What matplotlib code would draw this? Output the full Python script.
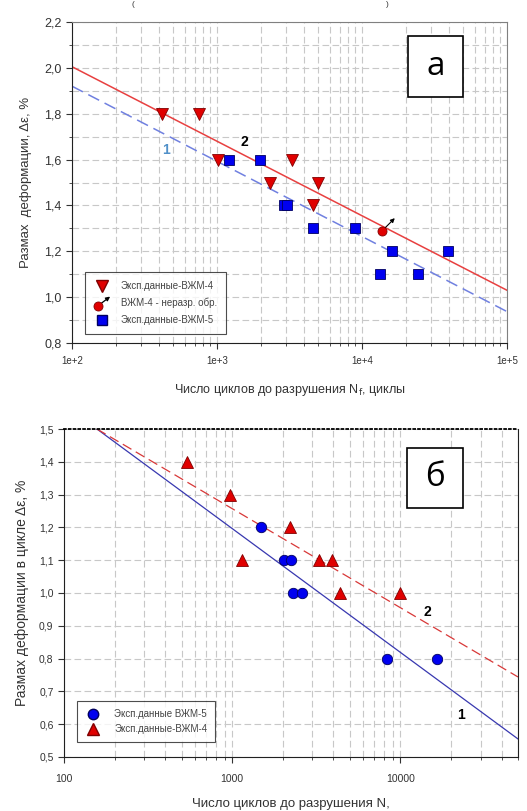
import numpy as np
import matplotlib
matplotlib.use("Agg")
import matplotlib.pyplot as plt
from matplotlib.lines import Line2D
from matplotlib.patches import Rectangle, FancyArrowPatch
from matplotlib.legend_handler import HandlerBase
from matplotlib.ticker import FixedLocator, FuncFormatter, LogLocator, NullFormatter

plt.rcParams['font.family'] = ['Liberation Sans', 'DejaVu Sans']

# --- панель а : данные ---
N_vzm4_a = [420, 748, 1016, 3290, 2335, 4980, 4590]
e_vzm4_a = [1.8, 1.8, 1.6, 1.6, 1.5, 1.5, 1.4]
N_runout = [13800]
e_runout = [1.29]
N_vzm5_a = [1210, 1968, 2884, 3040, 4590, 8900, 16200, 13240, 24300, 39200]
e_vzm5_a = [1.6, 1.6, 1.4, 1.4, 1.3, 1.3, 1.2, 1.1, 1.1, 1.2]
fit_N_a = [1e2, 1e5]
fit2_a = [2.005, 1.03]   # ВЖМ-4
fit1_a = [1.92, 0.937]   # ВЖМ-5
xticks_a = [1e2, 1e3, 1e4, 1e5]
xlabels_a = ['1e+2', '1e+3', '1e+4', '1e+5']

# --- панель б : данные ---
N_vzm5_b = [1490, 2024, 2232, 2285, 2600, 8300, 16400]
e_vzm5_b = [1.2, 1.1, 1.1, 1.0, 1.0, 0.8, 0.8]
N_vzm4_b = [540, 973, 1138, 2214, 3280, 3917, 4400, 10000]
e_vzm4_b = [1.4, 1.3, 1.1, 1.2, 1.1, 1.1, 1.0, 1.0]
fit_N_b = [157, 50000]
fit1_b = [1.5, 0.555]
fit2_b = [1.5, 0.744]
xticks_b = [100, 1000, 10000]

W, H = 527, 811
fig = plt.figure(figsize=(W/100, H/100), dpi=100)

def comma(v, pos):
    return ('%.1f' % v).replace('.', ',')

RED = '#e00000'
REDE = '#800000'
BLUE = '#0000f0'
BLUEE = '#000060'
GRID = '#c8c8c8'


class HandlerDotArrow(HandlerBase):
    def create_artists(self, legend, orig_handle, xdescent, ydescent,
                       width, height, fontsize, trans):
        cx = width*0.3 - xdescent
        cy = height*0.05 - ydescent
        dot = Line2D([cx], [cy], marker='o', ms=6.5, mfc=RED, mec=REDE,
                     mew=0.6, ls='none', transform=trans)
        arr = FancyArrowPatch((cx + 2, cy + 2), (cx + width*0.75, cy + height*1.4),
                              arrowstyle='-|>', mutation_scale=6, color='k',
                              lw=0.9, transform=trans, shrinkA=0, shrinkB=0)
        return [arr, dot]


# ================= верхний график (а) =================
ax1 = fig.add_axes([72/W, 1-343/H, 435/W, 321/H])
ax1.set_xscale('log')
ax1.set_xlim(1e2, 1e5)
ax1.set_ylim(0.8, 2.2)
ax1.plot(fit_N_a, fit2_a, color='#e84040', lw=1.1, zorder=2)
ax1.plot(fit_N_a, fit1_a, color='#7080e0', lw=1.1, ls=(0, (8, 4)), zorder=2)
ax1.plot(N_vzm4_a, e_vzm4_a, 'v', ms=8, mfc=RED, mec=REDE, mew=0.6, zorder=3)
ax1.plot(N_vzm5_a, e_vzm5_a, 's', ms=7, mfc=BLUE, mec=BLUEE, mew=0.6, zorder=3)
ax1.plot(N_runout, e_runout, 'o', ms=6.5, mfc=RED, mec=REDE, mew=0.6, zorder=4)
for n, e in zip(N_runout, e_runout):
    ax1.annotate('', xy=(n, e), xytext=(9, 9), textcoords='offset points',
                 arrowprops=dict(arrowstyle='<|-', color='k', lw=0.8,
                                 mutation_scale=6, shrinkA=0, shrinkB=3))
ax1.text(1550, 1.677, '2', fontsize=10, fontweight='bold', ha='center', va='center')
ax1.text(447, 1.64, '1', fontsize=10, fontweight='bold', color='#5090c8',
         ha='center', va='center')

ax1.xaxis.set_major_locator(FixedLocator(xticks_a))
ax1.xaxis.set_major_formatter(FuncFormatter(lambda v, p: xlabels_a[xticks_a.index(v)] if v in xticks_a else ''))
ax1.xaxis.set_minor_locator(LogLocator(base=10, subs=np.arange(2, 10)))
ax1.xaxis.set_minor_formatter(NullFormatter())
ax1.set_yticks(np.arange(0.8, 2.21, 0.2))
ax1.set_yticks(np.arange(0.9, 2.2, 0.2), minor=True)
ax1.yaxis.set_major_formatter(FuncFormatter(comma))
ax1.grid(True, which='both', color=GRID, ls=(0, (6, 3)), lw=0.8)
ax1.set_axisbelow(True)
ax1.tick_params(which='major', direction='out', length=4, labelsize=9, colors='#333333')
ax1.tick_params(which='minor', direction='out', length=2.5, colors='#333333')
ax1.tick_params(axis='x', which='major', labelsize=7, pad=5)
for s in ['top', 'right']:
    ax1.spines[s].set_color('#808080')
for s in ['left', 'bottom']:
    ax1.spines[s].set_color('#202020')
ax1.set_ylabel('Размах  деформации, Δε, %', fontsize=9.5, color='#333333', labelpad=9)
ax1.set_xlabel('Число циклов до разрушения N$_\\mathrm{f}$, циклы', fontsize=9,
               color='#333333', labelpad=12)

h1 = [Line2D([], [], marker='v', ms=8, mfc=RED, mec=REDE, ls='none'),
      object(),
      Line2D([], [], marker='s', ms=7, mfc=BLUE, mec=BLUEE, ls='none')]
leg1 = ax1.legend(h1, ['Эксп.данные-ВЖМ-4', 'ВЖМ-4 - неразр. обр.', 'Эксп.данные-ВЖМ-5'],
                  handler_map={object: HandlerDotArrow()},
                  loc='lower left', bbox_to_anchor=(0.03, 0.028), fontsize=7,
                  frameon=True, fancybox=False, handlelength=1.6, handletextpad=1.2,
                  labelspacing=0.7, borderpad=0.9, borderaxespad=0)
leg1.get_frame().set_edgecolor('#202020')
leg1.get_frame().set_linewidth(0.8)
for t in leg1.get_texts():
    t.set_color('#444444')

ax1.add_patch(Rectangle((336/435, 1-75/321), 55/435, 61/321, transform=ax1.transAxes,
                        facecolor='white', edgecolor='black', lw=1.2, zorder=5))
ax1.text((336+27.5)/435, 1-44.5/321, 'а', transform=ax1.transAxes, fontsize=24,
         family='Open Sans', ha='center', va='center', zorder=6)

# ================= нижний график (б) =================
ax2 = fig.add_axes([64/W, 1-757/H, 454/W, 328/H])
ax2.set_xscale('log')
ax2.set_xlim(100, 50000)
ax2.set_ylim(0.5, 1.5)
ax2.plot(fit_N_b, fit1_b, color='#3838b0', lw=0.9, zorder=2)
ax2.plot(fit_N_b, fit2_b, color='#d83838', lw=0.9, ls=(0, (8, 4)), zorder=2)
ax2.plot(N_vzm5_b, e_vzm5_b, 'o', ms=7.5, mfc=BLUE, mec=BLUEE, mew=0.6, zorder=3)
ax2.plot(N_vzm4_b, e_vzm4_b, '^', ms=8, mfc=RED, mec=REDE, mew=0.6, zorder=3)
ax2.text(14500, 0.942, '2', fontsize=10, fontweight='bold', ha='center', va='center')
ax2.text(23000, 0.628, '1', fontsize=10, fontweight='bold', ha='center', va='center')

ax2.xaxis.set_major_locator(FixedLocator(xticks_b))
ax2.xaxis.set_major_formatter(FuncFormatter(lambda v, p: '%d' % v))
ax2.xaxis.set_minor_locator(LogLocator(base=10, subs=np.arange(2, 10)))
ax2.xaxis.set_minor_formatter(NullFormatter())
ax2.set_yticks(np.arange(0.5, 1.51, 0.1))
ax2.yaxis.set_major_formatter(FuncFormatter(comma))
ax2.grid(True, which='both', color=GRID, ls=(0, (6, 3)), lw=0.8)
ax2.set_axisbelow(True)
ax2.tick_params(which='major', direction='out', length=4, labelsize=7.5, colors='#333333')
ax2.tick_params(which='minor', direction='out', length=2.5, colors='#333333')
ax2.tick_params(axis='x', which='major', pad=8)
ax2.spines['top'].set_linestyle(':')
ax2.spines['top'].set_linewidth(1.3)
for s in ['left', 'bottom', 'right']:
    ax2.spines[s].set_color('#202020')
ax2.set_ylabel('Размах деформации в цикле Δε, %', fontsize=10, color='#333333', labelpad=7)
ax2.set_xlabel('Число циклов до разрушения N,', fontsize=9.5, color='#333333', labelpad=10)

h2 = [Line2D([], [], marker='o', ms=7.5, mfc=BLUE, mec=BLUEE, ls='none'),
      Line2D([], [], marker='^', ms=8, mfc=RED, mec=REDE, ls='none')]
leg2 = ax2.legend(h2, ['Эксп.данные ВЖМ-5', 'Эксп.данные-ВЖМ-4'],
                  loc='lower left', bbox_to_anchor=(0.029, 0.046), fontsize=7,
                  frameon=True, fancybox=False, handlelength=1.6, handletextpad=1.4,
                  labelspacing=0.5, borderpad=0.8, borderaxespad=0)
leg2.get_frame().set_edgecolor('#202020')
leg2.get_frame().set_linewidth(0.8)
for t in leg2.get_texts():
    t.set_color('#444444')

ax2.add_patch(Rectangle((343/454, 1-79/328), 56/454, 60/328, transform=ax2.transAxes,
                        facecolor='white', edgecolor='black', lw=1.2, zorder=5))
ax2.text((343+28)/454, 1-49/328, 'б', transform=ax2.transAxes, fontsize=24,
         family='Open Sans', ha='center', va='center', zorder=6)

# подпись сверху (в оригинале обрезана)
fig.text(133/W, 1-1/H, '(', fontsize=6, ha='center', va='top', color='#333333')
fig.text(387/W, 1-1/H, ')', fontsize=6, ha='center', va='top', color='#333333')

fig.savefig('out.png', dpi=100)
